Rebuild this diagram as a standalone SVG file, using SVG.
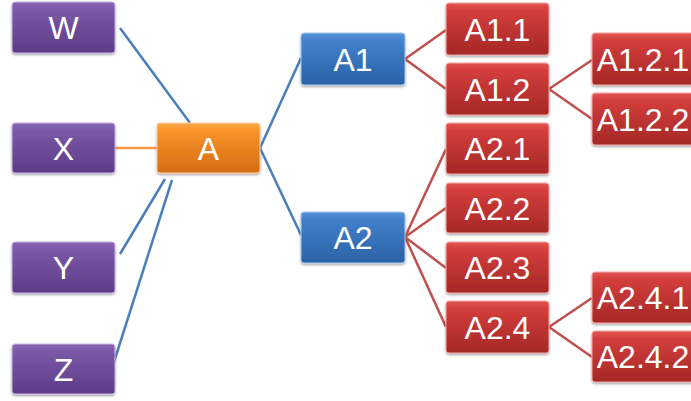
<svg xmlns="http://www.w3.org/2000/svg" width="691" height="401" viewBox="0 0 691 401">
<defs>
<linearGradient id="gP" x1="0" y1="0" x2="0" y2="1"><stop offset="0" stop-color="#8a66b8"/><stop offset="0.15" stop-color="#7b58a8"/><stop offset="1" stop-color="#5c3c86"/></linearGradient>
<linearGradient id="gO" x1="0" y1="0" x2="0" y2="1"><stop offset="0" stop-color="#fba84a"/><stop offset="0.15" stop-color="#f8942a"/><stop offset="1" stop-color="#d46d14"/></linearGradient>
<linearGradient id="gB" x1="0" y1="0" x2="0" y2="1"><stop offset="0" stop-color="#5594d8"/><stop offset="0.15" stop-color="#4281cb"/><stop offset="1" stop-color="#2a62a6"/></linearGradient>
<linearGradient id="gR" x1="0" y1="0" x2="0" y2="1"><stop offset="0" stop-color="#e25654"/><stop offset="0.15" stop-color="#d33d3b"/><stop offset="1" stop-color="#a42826"/></linearGradient>
<filter id="sh" x="-10%" y="-10%" width="120%" height="130%"><feDropShadow dx="0" dy="1.5" stdDeviation="1.2" flood-color="#000" flood-opacity="0.35"/></filter>
</defs>
<style>
.n rect{filter:url(#sh);stroke-width:1}
.p rect{fill:url(#gP);stroke:#c9b5e3}
.o rect{fill:url(#gO);stroke:#ffd0a0}
.b rect{fill:url(#gB);stroke:#a9c9ee}
.r rect{fill:url(#gR);stroke:#f1a8a6}
.n text{font-family:"Liberation Sans",Arial,sans-serif;font-size:32px;fill:#fff;text-anchor:middle}
.cb{stroke:#4a7ebb;stroke-width:2.5;fill:none}
.cr{stroke:#c0504d;stroke-width:2.5;fill:none}
.co{stroke:#f79646;stroke-width:2.5;fill:none}
</style>
<g id="connectors">
<line class="cb" x1="120" y1="28" x2="190" y2="123"/>
<line class="co" x1="115" y1="148" x2="157" y2="148"/>
<line class="cb" x1="120" y1="254" x2="165" y2="179"/>
<line class="cb" x1="114" y1="362" x2="172" y2="180"/>
<polyline class="cb" points="301,58 260,148 301,235"/>
<polyline class="cr" points="446,30 405,59 446,89"/>
<polyline class="cr" points="592,60 549,89 592,119"/>
<line class="cr" x1="405" y1="237" x2="446" y2="149"/>
<line class="cr" x1="405" y1="237" x2="446" y2="208"/>
<line class="cr" x1="405" y1="237" x2="446" y2="268"/>
<line class="cr" x1="405" y1="237" x2="446" y2="327"/>
<polyline class="cr" points="592,298 549,327 592,357"/>
</g>
<g id="W" class="n p"><rect x="12" y="2" width="103" height="51" rx="3"/><text x="63.5" y="39">W</text></g>
<g id="X" class="n p"><rect x="12" y="123" width="103" height="50" rx="3"/><text x="63.5" y="159.5">X</text></g>
<g id="Y" class="n p"><rect x="12" y="242" width="103" height="51" rx="3"/><text x="63.5" y="279">Y</text></g>
<g id="Z" class="n p"><rect x="12" y="344" width="103" height="50" rx="3"/><text x="63.5" y="380.5">Z</text></g>
<g id="A" class="n o"><rect x="157" y="123" width="103" height="50" rx="3"/><text x="208.5" y="159.5">A</text></g>
<g id="A1" class="n b"><rect x="301" y="33" width="104" height="52" rx="3"/><text x="353" y="70.5">A1</text></g>
<g id="A2" class="n b"><rect x="301" y="212" width="104" height="51" rx="3"/><text x="353" y="249">A2</text></g>
<g id="A1.1" class="n r"><rect x="446" y="3" width="103" height="52" rx="3"/><text x="497.5" y="40.5">A1.1</text></g>
<g id="A1.2" class="n r"><rect x="446" y="63" width="103" height="52" rx="3"/><text x="497.5" y="100.5">A1.2</text></g>
<g id="A2.1" class="n r"><rect x="446" y="123" width="103" height="51" rx="3"/><text x="497.5" y="160">A2.1</text></g>
<g id="A2.2" class="n r"><rect x="446" y="183" width="103" height="50" rx="3"/><text x="497.5" y="219.5">A2.2</text></g>
<g id="A2.3" class="n r"><rect x="446" y="242" width="103" height="51" rx="3"/><text x="497.5" y="279">A2.3</text></g>
<g id="A2.4" class="n r"><rect x="446" y="301" width="103" height="52" rx="3"/><text x="497.5" y="338.5">A2.4</text></g>
<g id="A1.2.1" class="n r"><rect x="592" y="33" width="104" height="52" rx="3"/><text x="643" y="70.5">A1.2.1</text></g>
<g id="A1.2.2" class="n r"><rect x="592" y="93" width="104" height="52" rx="3"/><text x="643" y="130.5">A1.2.2</text></g>
<g id="A2.4.1" class="n r"><rect x="592" y="272" width="104" height="51" rx="3"/><text x="643" y="309">A2.4.1</text></g>
<g id="A2.4.2" class="n r"><rect x="592" y="331" width="104" height="51" rx="3"/><text x="643" y="368">A2.4.2</text></g>
</svg>
